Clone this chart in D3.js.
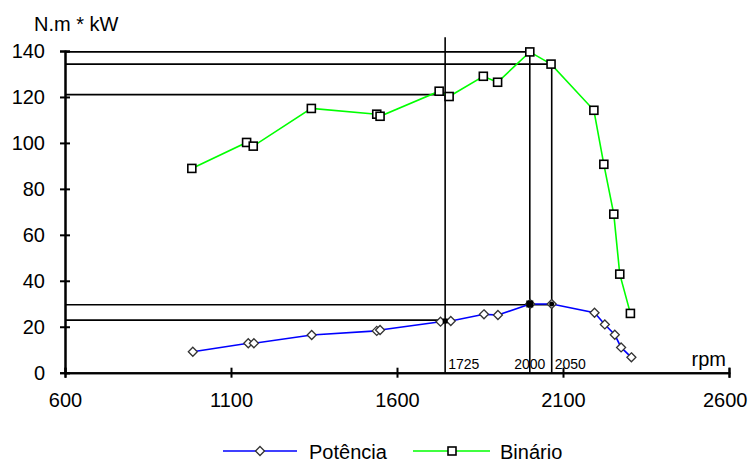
<!DOCTYPE html>
<html>
<head>
<meta charset="utf-8">
<script src="https://cdn.jsdelivr.net/npm/d3@7"></script>
<style>
  body { margin: 0; background: #fff; }
  svg text { font-family: "Liberation Sans", Arial, sans-serif; fill: #000; }
</style>
</head>
<body>
<svg id="chart" width="749" height="463"></svg>
<script>
// values
const rpmPotencia = [985, 1152, 1169, 1343, 1539, 1549, 1731, 1762, 1862, 1904, 2001, 2066, 2195, 2226, 2256, 2275, 2306];
const potencia = [9.1, 12.8, 12.8, 16.4, 18.2, 18.6, 22.2, 22.5, 25.4, 25.1, 29.9, 29.9, 26.1, 21, 16.5, 11, 6.7];
const rpmBinario = [982, 1147, 1167, 1342, 1539, 1549, 1727, 1757, 1860, 1903, 2000, 2064, 2193, 2223, 2253, 2271, 2303];
const binario = [88.9, 100.2, 98.6, 115, 112.5, 111.6, 122.5, 120.2, 129, 126.4, 139.6, 134.3, 114.2, 90.7, 69, 42.9, 25.8];

const xTicks = [600, 1100, 1600, 2100, 2600];
const yTicks = [0, 20, 40, 60, 80, 100, 120, 140];

// reference lines (horizontal: level, ends at rpm; vertical: rpm, top level, label)
const hLevels = [139.6, 134.3, 121, 29.6, 22.9];
const hEnds = [2000, 2066, 1745, 2066, 1745];
const vRpm = [1745, 2000, 2066];
const vTops = [146, 139.6, 134.3];
const vLabels = ['1725', '2000', '2050'];
const vAnchor = ['start', 'middle', 'start'];
const crossRpm = [1745, 2000, 2066];
const crossVal = [22.5, 29.9, 29.9];

const svg = d3.select('#chart');
const x = d3.scaleLinear().domain([600, 2600]).range([65, 729]);
const y = d3.scaleLinear().domain([0, 140]).range([372.7, 51]);

// axes
svg.append('g').attr('transform', `translate(${x(600)},0)`)
  .call(d3.axisLeft(y).tickValues(yTicks).tickSize(5).tickPadding(15));
svg.append('g').attr('transform', `translate(${x(600)},0)`)
  .call(d3.axisLeft(y).tickValues(yTicks).tickSize(-5).tickFormat(''));
const xAxis = svg.append('g').attr('transform', `translate(0,${y(0)})`)
  .call(d3.axisBottom(x).tickValues(xTicks).tickSize(5).tickPadding(15).tickFormat(d3.format('d')));
svg.append('g').attr('transform', `translate(0,${y(0)})`)
  .call(d3.axisBottom(x).tickValues(xTicks).tickSize(-5).tickFormat(''));

svg.selectAll('.domain').attr('stroke', '#000').attr('stroke-width', 2);
svg.selectAll('.tick line').attr('stroke', '#000').attr('stroke-width', 2);
svg.selectAll('.tick text').style('font-size', '20px').attr('fill', '#000');
// last x label sits against the right edge
xAxis.selectAll('.tick text').filter(d => d === 2600)
  .attr('text-anchor', 'end').attr('x', 18);

svg.append('text').attr('x', 34).attr('y', 31).style('font-size', '20px').text('N.m * kW');
svg.append('text').attr('x', 726).attr('y', 366).attr('text-anchor', 'end')
  .style('font-size', '20px').text('rpm');

// reference lines
const ref = svg.append('g').attr('stroke', '#000').attr('stroke-width', 1.6);
ref.selectAll('.h').data(hLevels).enter().append('line')
  .attr('x1', x(600)).attr('x2', (d, i) => x(hEnds[i]))
  .attr('y1', d => y(d)).attr('y2', d => y(d));
ref.selectAll('.v').data(vRpm).enter().append('line')
  .attr('x1', d => x(d)).attr('x2', d => x(d))
  .attr('y1', (d, i) => y(vTops[i])).attr('y2', y(0));

svg.selectAll('.vlab').data(vLabels).enter().append('text')
  .attr('x', (d, i) => x(vRpm[i]) + (vAnchor[i] === 'start' ? 3 : 0))
  .attr('y', 369)
  .attr('text-anchor', (d, i) => vAnchor[i])
  .style('font-size', '14px')
  .text(d => d);

// series lines
const pData = rpmPotencia.map((r, i) => [r, potencia[i]]);
const bData = rpmBinario.map((r, i) => [r, binario[i]]);
const line = d3.line().x(d => x(d[0])).y(d => y(d[1]));

svg.append('path').datum(pData).attr('d', line)
  .attr('fill', 'none').attr('stroke', '#0000ff').attr('stroke-width', 1.6);
svg.append('path').datum(bData).attr('d', line)
  .attr('fill', 'none').attr('stroke', '#00ff00').attr('stroke-width', 1.6);

const diamond = 'M0,-4.5L4.5,0L0,4.5L-4.5,0Z';

svg.append('g').selectAll('path').data(pData).enter().append('path')
  .attr('d', diamond)
  .attr('transform', d => `translate(${x(d[0])},${y(d[1])})`)
  .attr('fill', '#fff').attr('stroke', '#333').attr('stroke-width', 1.3);

svg.append('g').selectAll('rect').data(bData).enter().append('rect')
  .attr('x', d => x(d[0]) - 4).attr('y', d => y(d[1]) - 4)
  .attr('width', 8).attr('height', 8)
  .attr('fill', '#fff').attr('stroke', '#000').attr('stroke-width', 1.6);

// intersection marks
svg.append('g').selectAll('rect').data(crossRpm).enter().append('rect')
  .attr('x', (d, i) => x(d) - (i === 1 ? 3.5 : 2.5))
  .attr('y', (d, i) => y(crossVal[i]) - (i === 1 ? 3.5 : 2.5))
  .attr('width', (d, i) => (i === 1 ? 7 : 5))
  .attr('height', (d, i) => (i === 1 ? 7 : 5))
  .attr('rx', (d, i) => (i === 2 ? 2.5 : 0))
  .attr('fill', '#000');

// legend
const lg = svg.append('g').attr('transform', 'translate(0,451)');
lg.append('line').attr('x1', 223).attr('x2', 297).attr('stroke', '#0000ff').attr('stroke-width', 1.6);
lg.append('path').attr('d', diamond).attr('transform', 'translate(260,0)')
  .attr('fill', '#fff').attr('stroke', '#333').attr('stroke-width', 1.3);
lg.append('text').attr('x', 309).attr('y', 8).style('font-size', '20px').text('Potência');
lg.append('line').attr('x1', 413).attr('x2', 490).attr('stroke', '#00ff00').attr('stroke-width', 1.6);
lg.append('rect').attr('x', 448).attr('y', -4).attr('width', 8).attr('height', 8)
  .attr('fill', '#fff').attr('stroke', '#000').attr('stroke-width', 1.6);
lg.append('text').attr('x', 500).attr('y', 8).style('font-size', '20px').text('Binário');
</script>
</body>
</html>
